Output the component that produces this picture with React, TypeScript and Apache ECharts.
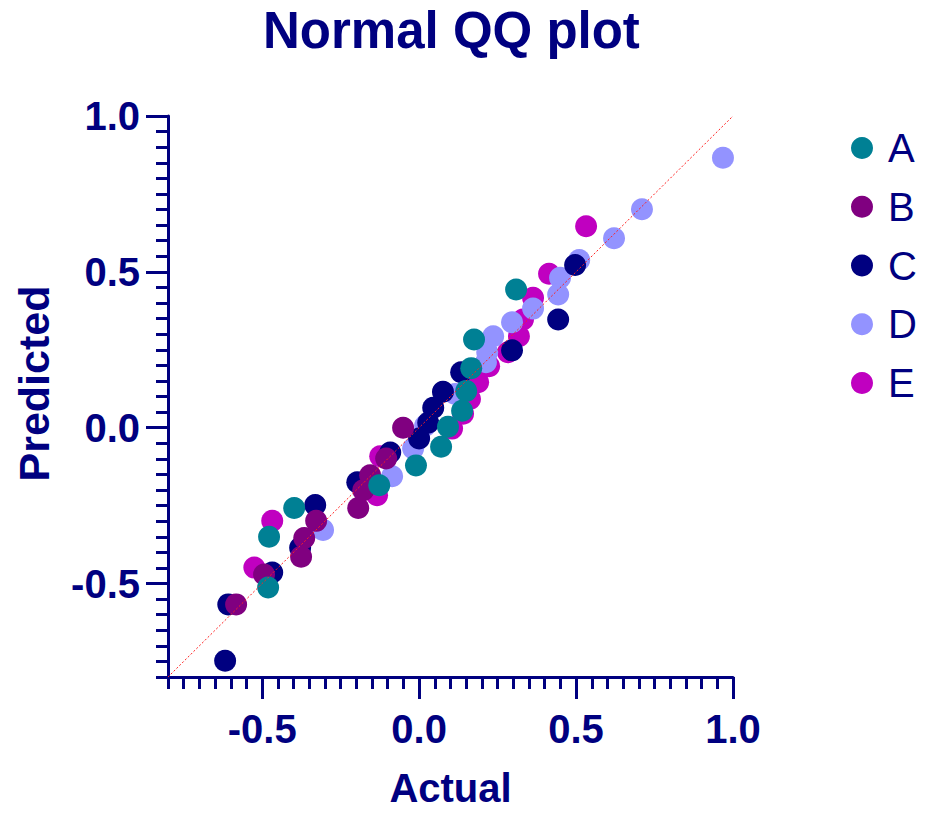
import React, { useEffect, useRef } from "react";
import * as echarts from "echarts";

const TITLE = "Normal QQ plot";
const X_NAME = "Actual";
const Y_NAME = "Predicted";
const SERIES_NAMES = ["A", "B", "C", "D", "E"];

const A_DATA = [
  [0.309, 0.443], [0.175, 0.283], [0.166, 0.191], [0.15, 0.118], [0.137, 0.054],
  [0.092, 0.003], [0.07, -0.061], [-0.01, -0.121], [-0.127, -0.185], [-0.398, -0.258],
  [-0.478, -0.35], [-0.481, -0.513],
];
const B_DATA = [
  [-0.051, 0.0], [-0.105, -0.099], [-0.156, -0.153], [-0.178, -0.201], [-0.194, -0.258],
  [-0.328, -0.299], [-0.366, -0.354], [-0.376, -0.414], [-0.494, -0.471], [-0.583, -0.567],
];
const C_DATA = [
  [0.497, 0.522], [0.443, 0.347], [0.296, 0.248], [0.134, 0.178], [0.076, 0.115],
  [0.045, 0.064], [0.029, 0.016], [0.0, -0.035], [-0.092, -0.08], [-0.197, -0.175],
  [-0.331, -0.248], [-0.379, -0.385], [-0.468, -0.465], [-0.608, -0.567], [-0.618, -0.748],
];
const D_DATA = [
  [0.968, 0.866], [0.71, 0.701], [0.621, 0.608], [0.51, 0.538], [0.449, 0.481],
  [0.443, 0.427], [0.363, 0.382], [0.296, 0.338], [0.236, 0.293], [0.217, 0.242],
  [0.213, 0.21], [0.115, 0.108], [0.019, 0.006], [-0.019, -0.067], [-0.086, -0.156],
  [-0.306, -0.328],
];
const E_DATA = [
  [0.532, 0.646], [0.414, 0.494], [0.363, 0.417], [0.331, 0.347], [0.318, 0.293],
  [0.283, 0.242], [0.223, 0.197], [0.188, 0.146], [0.162, 0.092], [0.14, 0.045],
  [0.105, -0.003], [-0.124, -0.092], [-0.134, -0.217], [-0.468, -0.299], [-0.525, -0.449],
];
const REF_LINE = [[-0.8, -0.8], [1.0, 1.0]];

const AXIS_MIN = -0.8;
const AXIS_MAX = 1.0;
const MAJOR_TICKS = [-0.5, 0.0, 0.5, 1.0];
const MINOR_STEP = 0.05;

const NAVY = "#000080";
const COLORS: Record<string, string> = {
  A: "#008094",
  B: "#800080",
  C: "#000080",
  D: "#9393FF",
  E: "#C000C0",
};
const FONT = "'Liberation Sans', Arial, sans-serif";

function minorTicks(): number[] {
  const out: number[] = [];
  const n = Math.round((AXIS_MAX - AXIS_MIN) / MINOR_STEP);
  for (let i = 0; i <= n; i++) out.push(Math.round((AXIS_MIN + i * MINOR_STEP) * 100) / 100);
  return out;
}

export default function App() {
  const ref = useRef<HTMLDivElement>(null);
  useEffect(() => {
    if (!ref.current) return;
    const chart = echarts.init(ref.current, null, { renderer: "svg" });
    const minor = minorTicks();
    const labelStyle = {
      fontSize: 40,
      fontWeight: "bold" as const,
      color: NAVY,
      fontFamily: FONT,
    };
    const majorAxis = (isX: boolean) => ({
      type: "value",
      min: AXIS_MIN,
      max: AXIS_MAX,
      position: isX ? "bottom" : "left",
      name: isX ? X_NAME : Y_NAME,
      nameLocation: "middle",
      nameGap: isX ? 91 : 113,
      nameTextStyle: isX
        ? { ...labelStyle, fontSize: 40 }
        : { ...labelStyle, fontSize: 43, padding: [0, 0, 0, 26] },
      axisLine: { show: true, onZero: false, lineStyle: { color: NAVY, width: 3 } },
      axisTick: {
        show: true,
        customValues: MAJOR_TICKS,
        length: 22,
        lineStyle: { color: NAVY, width: 3 },
      },
      axisLabel: {
        show: true,
        customValues: MAJOR_TICKS,
        formatter: (v: number) => v.toFixed(1),
        margin: isX ? 32 : 28,
        ...labelStyle,
      },
      splitLine: { show: false },
    });
    const minorAxis = (isX: boolean) => ({
      type: "value",
      min: AXIS_MIN,
      max: AXIS_MAX,
      position: isX ? "bottom" : "left",
      axisLine: { show: false, onZero: false },
      axisTick: {
        show: true,
        customValues: minor,
        length: 12,
        lineStyle: { color: NAVY, width: 3 },
      },
      axisLabel: { show: false },
      splitLine: { show: false },
    });
    const dataMap: Record<string, number[][]> = {
      A: A_DATA,
      B: B_DATA,
      C: C_DATA,
      D: D_DATA,
      E: E_DATA,
    };
    const drawOrder = ["E", "D", "C", "B", "A"];
    const option: any = {
      animation: false,
      title: {
        text: TITLE,
        left: 263,
        top: 5,
        padding: 0,
        textStyle: { fontSize: 51, fontWeight: "bold", color: NAVY, fontFamily: FONT },
      },
      legend: {
        data: SERIES_NAMES,
        orient: "vertical",
        left: 851,
        top: 128,
        padding: 0,
        itemWidth: 42,
        itemHeight: 22,
        itemGap: 18.75,
        icon: "circle",
        textStyle: { fontSize: 40, color: NAVY, fontFamily: FONT, lineHeight: 40 },
      },
      grid: { left: 168, top: 116, width: 565, height: 565 },
      xAxis: [majorAxis(true), minorAxis(true)],
      yAxis: [majorAxis(false), minorAxis(false)],
      series: [
        {
          type: "line",
          name: "ref",
          data: REF_LINE,
          symbol: "none",
          silent: true,
          lineStyle: { color: "#FF2020", width: 1, type: [2, 2] },
        },
        ...drawOrder.map((n) => ({
          type: "scatter",
          name: n,
          data: dataMap[n],
          symbol: "circle",
          symbolSize: 22,
          itemStyle: { color: COLORS[n], opacity: 1 },
        })),
      ],
    };
    chart.setOption(option);
    return () => chart.dispose();
  }, []);
  return (
    <div
      ref={ref}
      style={{ position: "absolute", left: 0, top: 0, width: 940, height: 813 }}
    />
  );
}
